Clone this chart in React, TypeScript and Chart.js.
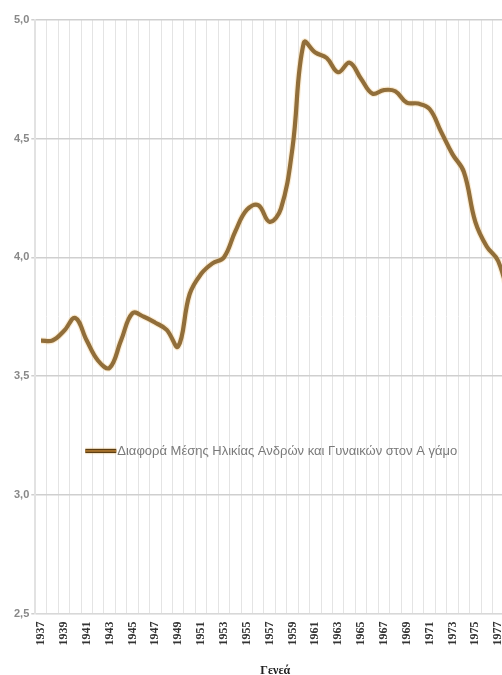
import React, { useEffect, useRef } from "react";
import { Chart, registerables } from "chart.js";

Chart.register(...registerables);

const years: string[] = [
  "1937", "1938", "1939", "1940", "1941", "1942", "1943", "1944", "1945", "1946",
  "1947", "1948", "1949", "1950", "1951", "1952", "1953", "1954", "1955", "1956",
  "1957", "1958", "1959", "1960", "1961", "1962", "1963", "1964", "1965", "1966",
  "1967", "1968", "1969", "1970", "1971", "1972", "1973", "1974", "1975", "1976",
  "1977", "1978",
];

const ageGap: number[] = [
  3.65, 3.65, 3.69, 3.745, 3.65, 3.565, 3.535, 3.65, 3.765, 3.75,
  3.725, 3.695, 3.625, 3.845, 3.93, 3.975, 4.0, 4.11, 4.2, 4.22,
  4.15, 4.207, 4.46, 4.905, 4.863, 4.84, 4.78, 4.82, 4.753, 4.69,
  4.705, 4.7, 4.652, 4.648, 4.625, 4.53, 4.435, 4.36, 4.15, 4.046,
  3.985, 3.82,
];

const yTicks: number[] = [2.5, 3.0, 3.5, 4.0, 4.5, 5.0];

const seriesLabel = "Διαφορά Μέσης Ηλικίας Ανδρών και Γυναικών στον Α γάμο";
const xTitle = "Γενεά";

const edgeColor = "#5c3e14";
const coreColor = "#c08434";
const glowColor = "rgba(244,200,130,0.35)";

const legendPlugin = {
  id: "innerLegend",
  afterDraw(chart: any) {
    const { ctx, chartArea } = chart;
    const x0 = chartArea.left + 50;
    const y0 = chartArea.top + (chartArea.bottom - chartArea.top) * 0.726;
    ctx.save();
    ctx.lineCap = "butt";
    const layers: [string, number][] = [
      [glowColor, 6.5],
      [edgeColor, 4.2],
      [coreColor, 1.4],
    ];
    for (const [c, w] of layers) {
      ctx.strokeStyle = c;
      ctx.lineWidth = w;
      ctx.beginPath();
      ctx.moveTo(x0, y0);
      ctx.lineTo(x0 + 31, y0);
      ctx.stroke();
    }
    ctx.fillStyle = "#7a7a7a";
    ctx.font = "13px 'Liberation Sans', Arial, sans-serif";
    ctx.textBaseline = "middle";
    ctx.textAlign = "left";
    ctx.fillText(seriesLabel, x0 + 32, y0);
    ctx.restore();
  },
};

export default function App() {
  const canvasRef = useRef<HTMLCanvasElement | null>(null);

  useEffect(() => {
    const canvas = canvasRef.current;
    if (!canvas) return;
    const lineBase = { data: ageGap, pointRadius: 0, tension: 0.4, fill: false };
    const chart = new Chart(canvas, {
      type: "line",
      data: {
        labels: years,
        datasets: [
          { ...lineBase, label: "glow", borderColor: glowColor, borderWidth: 6.5 },
          { ...lineBase, label: "edge", borderColor: edgeColor, borderWidth: 4.2 },
          { ...lineBase, label: seriesLabel, borderColor: coreColor, borderWidth: 1.4 },
        ],
      },
      options: {
        animation: false,
        responsive: false,
        devicePixelRatio: 1,
        layout: { padding: { top: 20, left: 12, right: 0, bottom: 1 } },
        plugins: {
          legend: { display: false },
          tooltip: { enabled: false },
        },
        scales: {
          x: {
            type: "category",
            offset: true,
            grid: {
              offset: true,
              color: "#e4e4e4",
              lineWidth: 1,
              drawTicks: false,
            },
            border: { color: "#d8d8d8" },
            ticks: {
              autoSkip: false,
              minRotation: 90,
              maxRotation: 90,
              padding: 8,
              color: "#333",
              font: { family: "'Liberation Serif', 'Times New Roman', serif", size: 12, weight: "bold" },
              callback: (_v: any, i: number) => (i % 2 === 0 ? years[i] : ""),
            },
            title: {
              display: true,
              text: xTitle,
              color: "#222",
              font: { family: "'Liberation Serif', 'Times New Roman', serif", size: 12, weight: "bold" },
              padding: { top: 10, bottom: 0 },
            },
          },
          y: {
            type: "linear",
            min: 2.5,
            max: 5.0,
            afterBuildTicks: (axis: any) => {
              axis.ticks = yTicks.map((v) => ({ value: v }));
            },
            grid: {
              color: "#cfcfcf",
              lineWidth: 1.5,
              tickLength: 4,
            },
            border: { color: "#e2e2e2", width: 2 },
            ticks: {
              color: "#888",
              padding: 2,
              font: { family: "'Liberation Sans', Arial, sans-serif", size: 11, weight: "bold" },
              callback: (v: any) => Number(v).toFixed(1).replace(".", ","),
            },
          },
        },
      },
      plugins: [legendPlugin],
    } as any);
    return () => chart.destroy();
  }, []);

  return (
    <div
      style={{
        position: "fixed",
        left: 0,
        top: 0,
        width: 502,
        height: 675,
        overflow: "hidden",
        background: "#fff",
      }}
    >
      <canvas ref={canvasRef} width={532} height={679} style={{ display: "block" }} />
    </div>
  );
}
